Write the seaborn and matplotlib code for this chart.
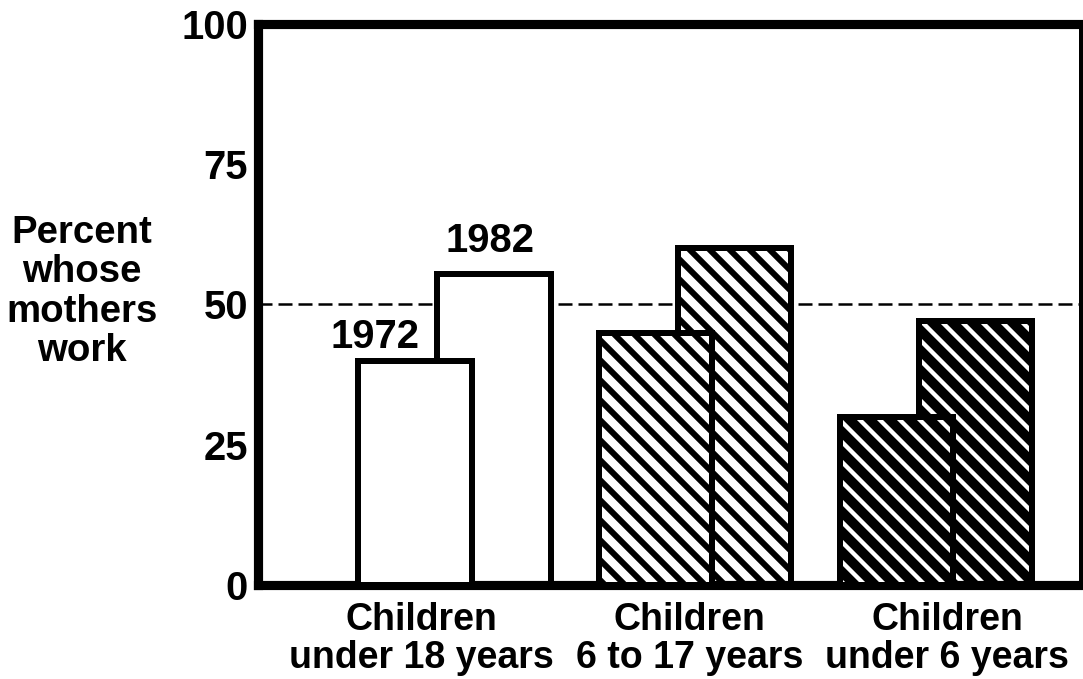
import pandas as pd
import seaborn as sns
import matplotlib.pyplot as plt

# values (percent of children whose mothers work)
groups = ["Children\nunder 18 years", "Children\n6 to 17 years", "Children\nunder 6 years"]
years = ["1972", "1982"]
pct_1972 = [40, 45, 30]
pct_1982 = [55.5, 60, 47]
yticks = [0, 25, 50, 75, 100]
ylabel = "Percent\nwhose\nmothers\nwork"

df = pd.DataFrame({
    "group": groups * 2,
    "year": [years[0]] * 3 + [years[1]] * 3,
    "pct": pct_1972 + pct_1982,
})

sns.set_style("white")
plt.rcParams["font.family"] = ["Liberation Sans", "DejaVu Sans"]
plt.rcParams["font.weight"] = "bold"
plt.rcParams["text.color"] = "black"
plt.rcParams["xtick.color"] = "black"
plt.rcParams["ytick.color"] = "black"
plt.rcParams["axes.labelcolor"] = "black"
plt.rcParams["hatch.linewidth"] = 3.6

fig = plt.figure(figsize=(1083 / 120, 679 / 120), dpi=120)
ax = fig.add_axes([0.2382, 0.1384, 0.7600, 0.8263])

ax.axhline(50, color="black", lw=1.5, ls=(0, (5.6, 2.4)), zorder=0)

sns.barplot(data=df, x="group", y="pct", hue="year", dodge=True, width=0.656,
            palette=["white", "white"], legend=False, ax=ax, zorder=2)

bar_w = 0.47
for k, cont in enumerate(ax.containers):
    for i, p in enumerate(cont.patches):
        cx = p.get_x() + p.get_width() / 2
        p.set_width(bar_w)
        p.set_x(cx - bar_w / 2)
        p.set_edgecolor("black")
        p.set_linewidth(3.6)
        p.set_zorder(3 if k == 0 else 2)
        if i == 1:
            p.set_facecolor("white")
            p.set_hatch("\\\\")
        elif i == 2:
            # dark panel: black fill with thin white stripes
            p.set_facecolor("black")
            p.set_hatch("\\\\")
            p._hatch_color = (1, 1, 1, 1)
            if hasattr(p, "set_hatch_linewidth"):
                p.set_hatch_linewidth(2.6)

# year labels on the first group
b82 = ax.containers[1].patches[0]
ax.text(b82.get_x() - 0.075, pct_1972[0] + 2.2, years[0], ha="right", va="baseline",
        fontsize=24, fontweight="bold")
ax.text(b82.get_x() + b82.get_width() / 2 - 0.015, pct_1982[0] + 3.9, years[1],
        ha="center", va="baseline", fontsize=24, fontweight="bold")

ax.set_xlim(-0.816, 2.602)
ax.set_ylim(0, 100)
ax.set_yticks(yticks)
ax.set_yticklabels([str(t) for t in yticks], fontsize=24, fontweight="bold")
# category labels sit a little off the group centres in the original
label_shift = [-0.139, -0.023, 0.046]
ax.set_xticks([i + s for i, s in enumerate(label_shift)])
ax.set_xticklabels(groups, fontsize=22.5, fontweight="bold", linespacing=1.08)
ax.tick_params(axis="y", direction="in", length=12, width=1.2, pad=6)
ax.tick_params(axis="x", length=0, pad=10)

ax.set_xlabel("")
ax.set_ylabel(ylabel, rotation=0, fontsize=23, fontweight="bold", ha="center",
              va="center", linespacing=1.12)
ax.yaxis.set_label_coords(-0.214, 0.522)

for side in ["left", "top", "bottom"]:
    ax.spines[side].set_linewidth(5.5)
    ax.spines[side].set_color("black")
ax.spines["right"].set_linewidth(3)
ax.spines["right"].set_color("black")

fig.savefig("out.png", dpi=120)
